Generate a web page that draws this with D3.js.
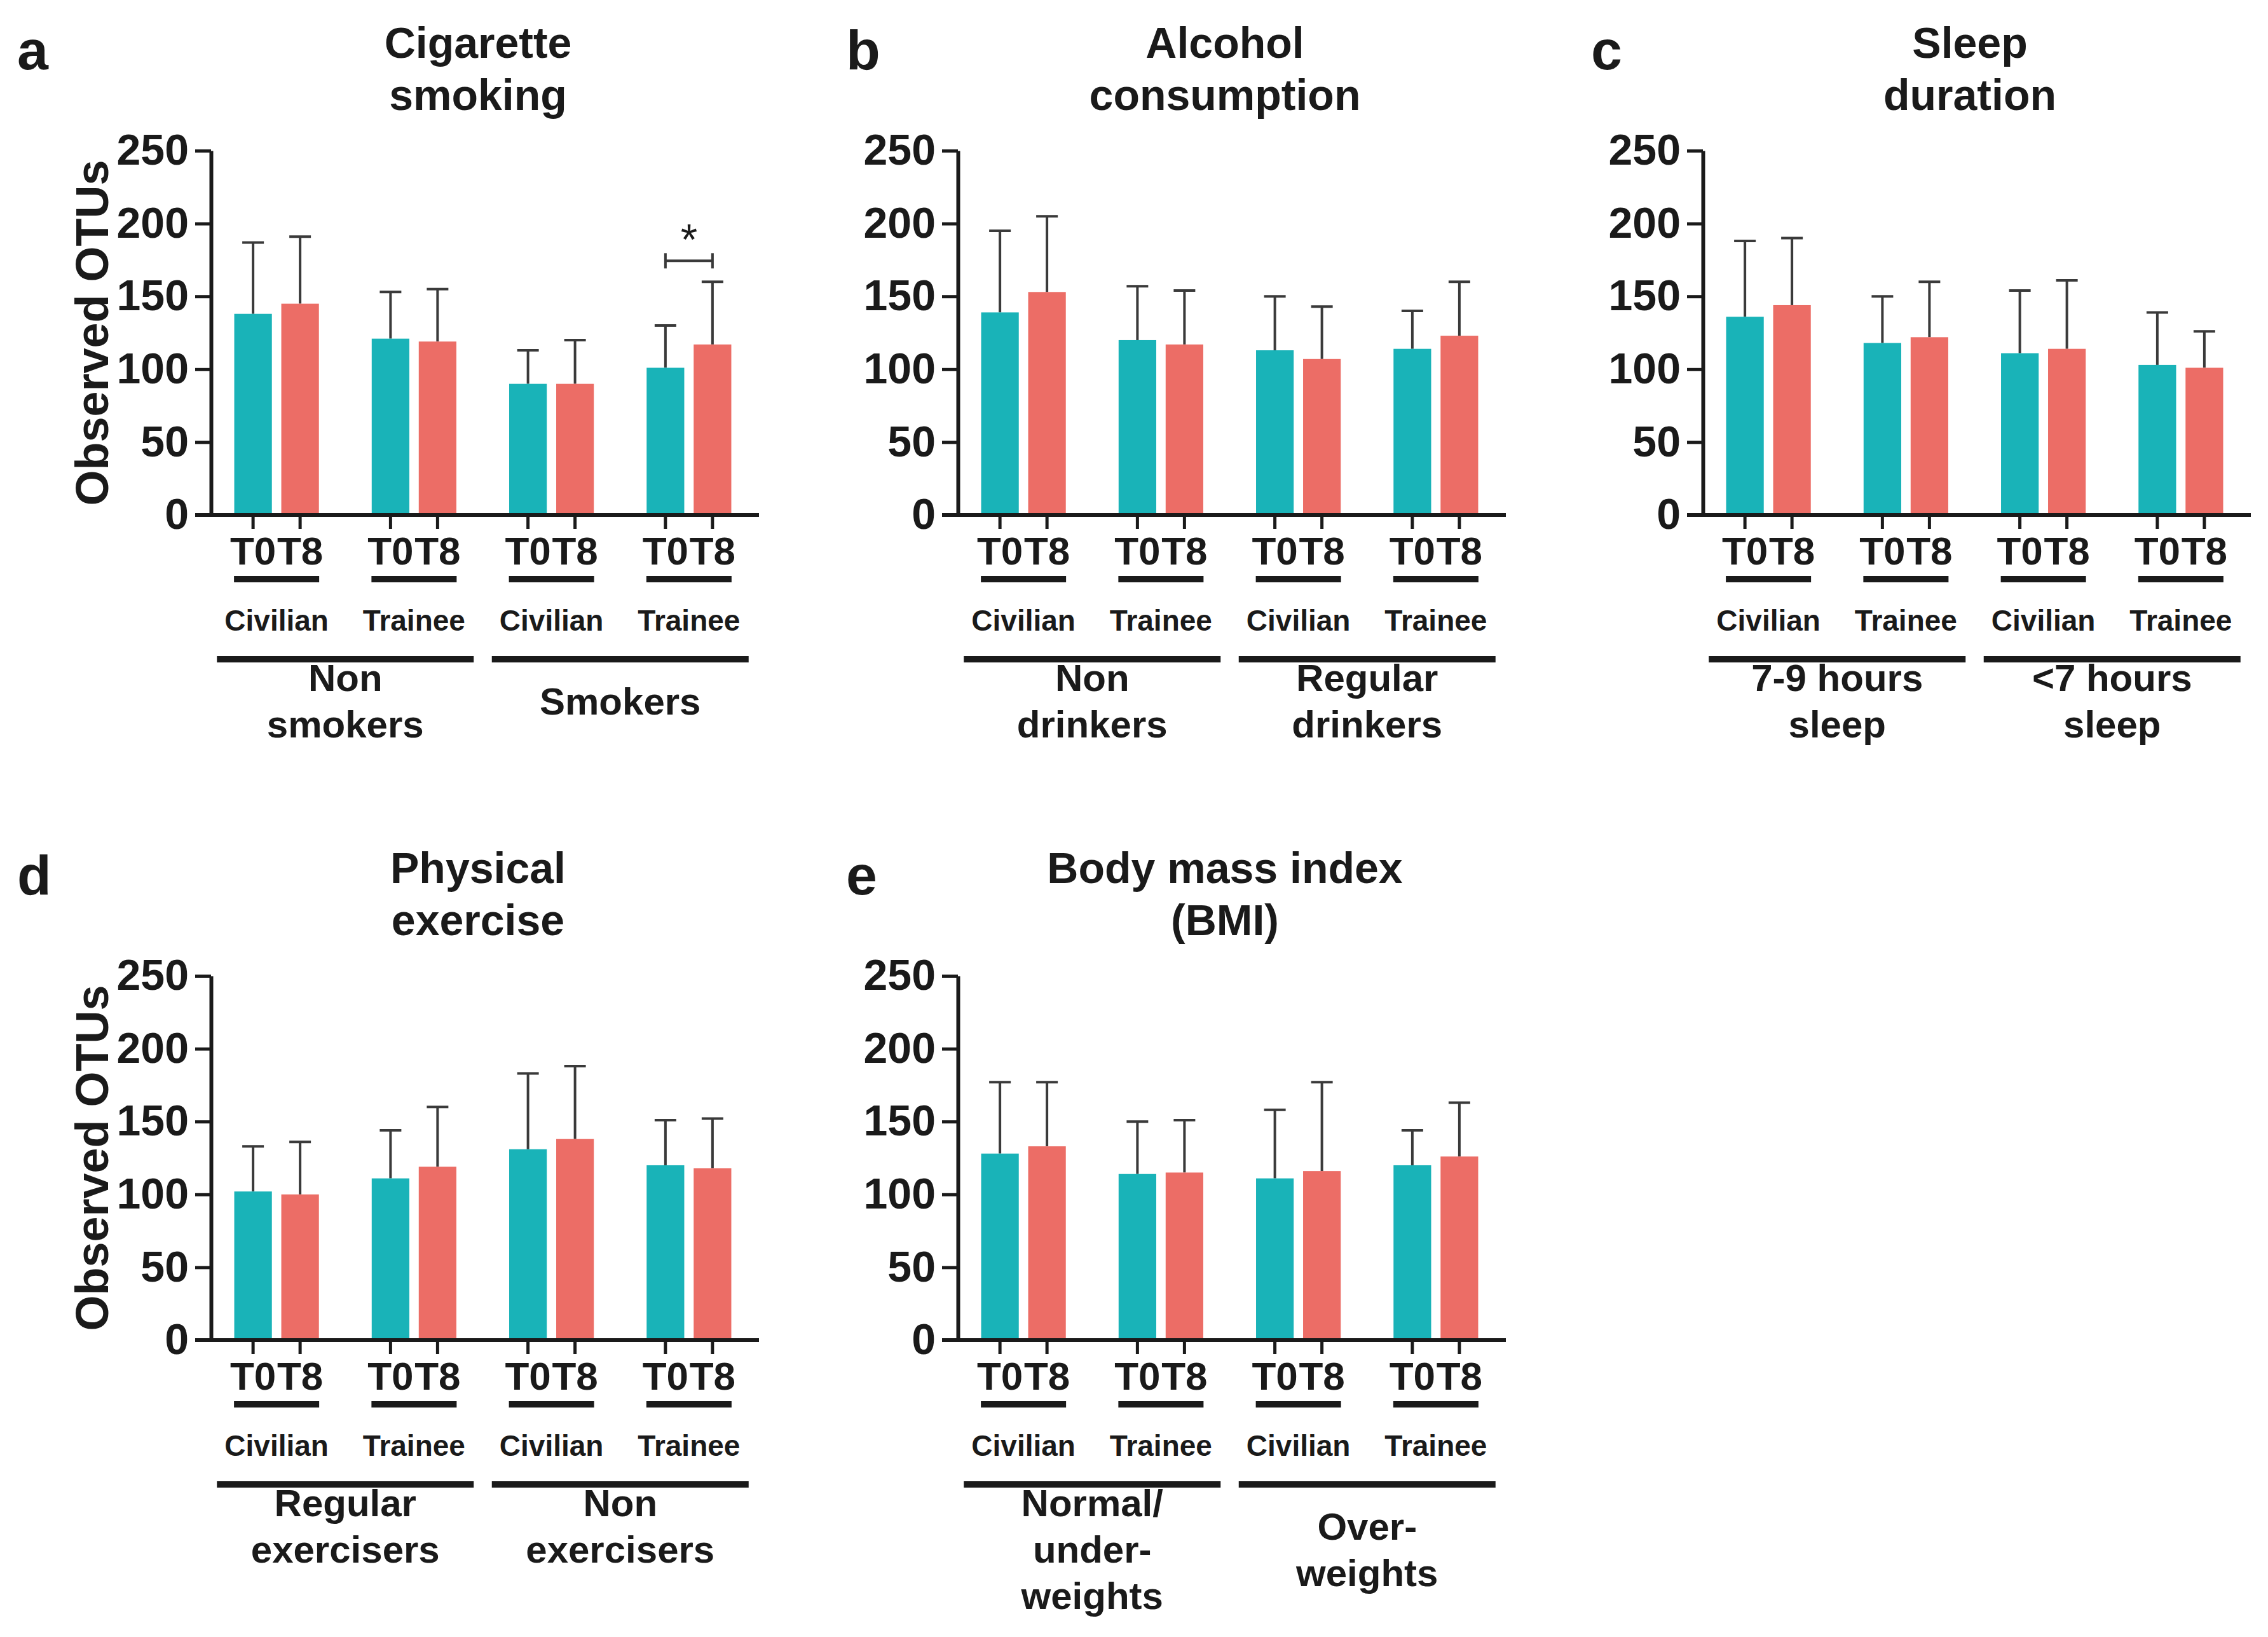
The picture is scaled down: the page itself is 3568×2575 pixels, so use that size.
<!DOCTYPE html>
<html>
<head>
<meta charset="utf-8">
<script src="https://cdn.jsdelivr.net/npm/d3@7"></script>
<style>
body { margin: 0; background: #fff; }
text { font-family: "Liberation Sans", Arial, sans-serif; font-weight: bold; fill: #1a1a1a; }
</style>
</head>
<body>
<svg id="fig" width="3568" height="2575"></svg>
<script>
const letters = ['a', 'b', 'c', 'd', 'e'];
const titles = [
    ['Cigarette', 'smoking'],
    ['Alcohol', 'consumption'],
    ['Sleep', 'duration'],
    ['Physical', 'exercise'],
    ['Body mass index', '(BMI)']
];
const cohorts = ['Civilian', 'Trainee', 'Civilian', 'Trainee'];
const times = ['T0', 'T8'];
const categories = [
    [['Non', 'smokers'], ['Smokers']],
    [['Non', 'drinkers'], ['Regular', 'drinkers']],
    [['7-9 hours', 'sleep'], ['<7 hours', 'sleep']],
    [['Regular', 'exercisers'], ['Non', 'exercisers']],
    [['Normal/', 'under-', 'weights'], ['Over-', 'weights']]
];
const yTicks = [0, 50, 100, 150, 200, 250];

// mean observed OTUs, one row per panel, one value per cohort group
const meanT0 = [
    [138, 121, 90, 101],
    [139, 120, 113, 114],
    [136, 118, 111, 103],
    [102, 111, 131, 120],
    [128, 114, 111, 120]
];
const meanT8 = [
    [145, 119, 90, 117],
    [153, 117, 107, 123],
    [144, 122, 114, 101],
    [100, 119, 138, 118],
    [133, 115, 116, 126]
];
// SD (upper error bar only)
const sdT0 = [
    [49, 32, 23, 29],
    [56, 37, 37, 26],
    [52, 32, 43, 36],
    [31, 33, 52, 31],
    [49, 36, 47, 24]
];
const sdT8 = [
    [46, 36, 30, 43],
    [52, 37, 36, 37],
    [46, 38, 47, 25],
    [36, 41, 50, 34],
    [44, 36, 61, 37]
];
const significance = [{ panel: 0, group: 3, label: '*' }];

const colors = { T0: '#19b3b8', T8: '#ec6d66' };
const ink = '#1a1a1a';

const svg = d3.select('#fig');
const colX = [332, 1507, 2679];
const rowY = [810, 2108];
const plotH = 573;
const plotW = 862;

letters.forEach((letter, p) => {
    const x0 = colX[p % 3];
    const y0 = rowY[Math.floor(p / 3)];
    const g = svg.append('g').attr('transform', `translate(${x0},${y0})`);

    const y = d3.scaleLinear().domain([0, 250]).range([0, -plotH]);
    const xg = d3.scaleBand().domain(d3.range(4)).range([-5, 860]);
    const xt = d3.scaleBand().domain(times).range([-74, 74]);
    const groupCx = gi => xg(gi) + xg.bandwidth() / 2;
    const cx = (gi, t) => groupCx(gi) + xt(t) + xt.bandwidth() / 2;
    const barW = xt.bandwidth() * 0.8;

    const bars = [];
    d3.range(4).forEach(gi => {
        bars.push({ gi, t: 'T0', mean: meanT0[p][gi], sd: sdT0[p][gi] });
        bars.push({ gi, t: 'T8', mean: meanT8[p][gi], sd: sdT8[p][gi] });
    });

    // error bars (drawn first, bars cover the lower part)
    const err = g.append('g').attr('stroke', '#3a3a3a').attr('stroke-width', 4);
    err.selectAll('line.v').data(bars).enter().append('line')
        .attr('class', 'v')
        .attr('x1', d => cx(d.gi, d.t)).attr('x2', d => cx(d.gi, d.t))
        .attr('y1', d => y(d.mean)).attr('y2', d => y(d.mean + d.sd));
    err.selectAll('line.cap').data(bars).enter().append('line')
        .attr('class', 'cap')
        .attr('x1', d => cx(d.gi, d.t) - 17).attr('x2', d => cx(d.gi, d.t) + 17)
        .attr('y1', d => y(d.mean + d.sd)).attr('y2', d => y(d.mean + d.sd));

    g.append('g').selectAll('rect').data(bars).enter().append('rect')
        .attr('x', d => cx(d.gi, d.t) - barW / 2)
        .attr('width', barW)
        .attr('y', d => y(d.mean))
        .attr('height', d => y(0) - y(d.mean))
        .attr('fill', d => colors[d.t]);

    // y axis
    const yAxis = g.append('g')
        .call(d3.axisLeft(y).tickValues(yTicks).tickSize(25).tickSizeOuter(0).tickPadding(10));
    yAxis.select('.domain').attr('stroke', ink).attr('stroke-width', 6);
    yAxis.selectAll('.tick line').attr('stroke', ink).attr('stroke-width', 5);
    yAxis.selectAll('.tick text')
        .attr('font-size', 68).attr('fill', ink)
        .style('font-family', '"Liberation Sans", Arial, sans-serif').style('font-weight', 'bold');

    // x axis line and ticks
    g.append('line').attr('x1', -25).attr('x2', plotW).attr('y1', 0).attr('y2', 0)
        .attr('stroke', ink).attr('stroke-width', 6);
    g.append('g').selectAll('line').data(bars).enter().append('line')
        .attr('x1', d => cx(d.gi, d.t)).attr('x2', d => cx(d.gi, d.t))
        .attr('y1', 0).attr('y2', 22)
        .attr('stroke', ink).attr('stroke-width', 5);

    g.append('g').selectAll('text').data(bars).enter().append('text')
        .attr('x', d => cx(d.gi, d.t)).attr('y', 78)
        .attr('text-anchor', 'middle').attr('font-size', 62)
        .text(d => d.t);

    g.append('g').selectAll('rect').data(d3.range(4)).enter().append('rect')
        .attr('x', gi => groupCx(gi) - 67).attr('width', 134)
        .attr('y', 96).attr('height', 10).attr('fill', ink);

    g.append('g').selectAll('text').data(cohorts).enter().append('text')
        .attr('x', (c, gi) => groupCx(gi)).attr('y', 182)
        .attr('text-anchor', 'middle').attr('font-size', 46)
        .text(c => c);

    // category brackets
    const cats = categories[p];
    const maxLines = d3.max(cats, c => c.length);
    cats.forEach((lines, ci) => {
        const mid = (groupCx(ci * 2) + groupCx(ci * 2 + 1)) / 2;
        g.append('rect').attr('x', mid - 202).attr('width', 404)
            .attr('y', 222).attr('height', 10).attr('fill', ink);
        const off = (maxLines - lines.length) / 2 * 73;
        g.append('g').selectAll('text').data(lines).enter().append('text')
            .attr('x', mid).attr('y', (l, i) => 277 + off + i * 73)
            .attr('text-anchor', 'middle').attr('font-size', 60)
            .text(l => l);
    });

    // title and panel letter
    g.append('g').selectAll('text').data(titles[p]).enter().append('text')
        .attr('x', 420).attr('y', (l, i) => -719 + i * 82)
        .attr('text-anchor', 'middle').attr('font-size', 68)
        .text(l => l);
    g.append('text').attr('x', p % 3 === 0 ? -305 : -176).attr('y', -701)
        .attr('font-size', 88).text(letter);

    if (p % 3 === 0) {
        g.append('text')
            .attr('transform', `translate(-162,${y(125)}) rotate(-90)`)
            .attr('text-anchor', 'middle').attr('font-size', 72)
            .text('Observed OTUs');
    }

    significance.filter(s => s.panel === p).forEach(s => {
        const top = d3.max([meanT0[p][s.group] + sdT0[p][s.group], meanT8[p][s.group] + sdT8[p][s.group]]);
        const by = y(top) - 33;
        const xa = cx(s.group, 'T0'), xb = cx(s.group, 'T8');
        const br = g.append('g').attr('stroke', '#3a3a3a').attr('stroke-width', 4);
        br.append('line').attr('x1', xa).attr('x2', xb).attr('y1', by).attr('y2', by);
        br.append('line').attr('x1', xa).attr('x2', xa).attr('y1', by - 12).attr('y2', by + 12);
        br.append('line').attr('x1', xb).attr('x2', xb).attr('y1', by - 12).attr('y2', by + 12);
        g.append('text').attr('x', (xa + xb) / 2).attr('y', by - 10)
            .attr('text-anchor', 'middle').attr('font-size', 68)
            .style('font-weight', 'normal').attr('fill', '#3a3a3a')
            .text(s.label);
    });
});
</script>
</body>
</html>
